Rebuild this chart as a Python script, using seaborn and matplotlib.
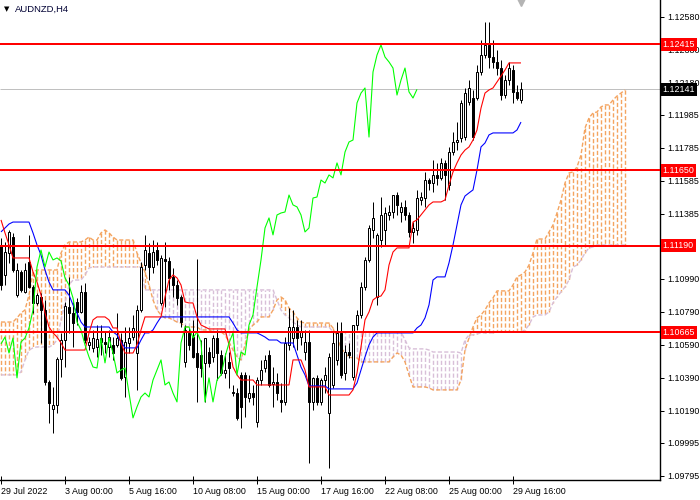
import matplotlib
matplotlib.use("Agg")
import matplotlib.pyplot as plt
import matplotlib.transforms as mtransforms
from matplotlib.collections import LineCollection
import numpy as np
import pandas as pd
import seaborn as sns

# ---------------- data ----------------
symbol_title = "AUDNZD,H4"
date_labels = ["29 Jul 2022", "3 Aug 00:00", "5 Aug 16:00", "10 Aug 08:00", "15 Aug 00:00",
               "17 Aug 16:00", "22 Aug 08:00", "25 Aug 00:00", "29 Aug 16:00"]
date_label_bars = [0, 16, 32, 48, 64, 80, 96, 112, 128]
price_ticks = [1.12580, 1.12380, 1.12180, 1.11985, 1.11785, 1.11585, 1.11385,
               1.10990, 1.10790, 1.10590, 1.10390, 1.10190, 1.09995, 1.09795]
level_prices = [1.12415, 1.11650, 1.11190, 1.10665]
last_price = 1.12141
chikou_shift = 26

opens = [1.11196, 1.11014, 1.11147, 1.11244, 1.10892, 1.11032, 1.10911, 1.11093, 1.10941, 1.10844,
         1.10880, 1.10801, 1.10364, 1.10200, 1.10225, 1.10504, 1.10619, 1.10820, 1.10783, 1.10850,
         1.10789, 1.10911, 1.10589, 1.10571, 1.10577, 1.10631, 1.10607, 1.10577, 1.10589, 1.10589,
         1.10619, 1.10395, 1.10601, 1.10637, 1.10540, 1.10801, 1.11074, 1.11147, 1.11062, 1.11165,
         1.10844, 1.11111, 1.11099, 1.11002, 1.10953, 1.10880, 1.10486, 1.10662, 1.10637, 1.10540,
         1.10528, 1.10480, 1.10546, 1.10516, 1.10631, 1.10528, 1.10419, 1.10486, 1.10304, 1.10297,
         1.10407, 1.10407, 1.10267, 1.10297, 1.10121, 1.10376, 1.10449, 1.10528, 1.10352, 1.10364,
         1.10255, 1.10243, 1.10589, 1.10631, 1.10698, 1.10637, 1.10546, 1.10607, 1.10243, 1.10389,
         1.10243, 1.10376, 1.10176, 1.10346, 1.10498, 1.10662, 1.10419, 1.10546, 1.10395, 1.10710,
         1.10771, 1.10941, 1.11105, 1.11287, 1.10880, 1.11226, 1.11287, 1.11378, 1.11396, 1.11499,
         1.11396, 1.11427, 1.11378, 1.11275, 1.11287, 1.11469, 1.11481, 1.11590, 1.11572, 1.11621,
         1.11603, 1.11694, 1.11560, 1.11760, 1.11821, 1.11845, 1.11851, 1.12064, 1.12088, 1.12088,
         1.12246, 1.12349, 1.12410, 1.12337, 1.12307, 1.12270, 1.12106, 1.12197, 1.12258, 1.12125,
         1.12076]
highs = [1.11238, 1.11214, 1.11287, 1.11269, 1.11087, 1.11044, 1.11087, 1.11257, 1.10953, 1.10904,
         1.10904, 1.10862, 1.10376, 1.10334, 1.10516, 1.10662, 1.10850, 1.11002, 1.10850, 1.10874,
         1.10953, 1.10965, 1.10637, 1.10680, 1.10710, 1.10710, 1.10668, 1.10680, 1.10637, 1.10783,
         1.10662, 1.10698, 1.10698, 1.10771, 1.10832, 1.11093, 1.11257, 1.11208, 1.11226, 1.11214,
         1.11135, 1.11214, 1.11123, 1.11056, 1.10983, 1.10892, 1.10710, 1.10692, 1.10741, 1.11111,
         1.10619, 1.10631, 1.10577, 1.10650, 1.10680, 1.10558, 1.10540, 1.10546, 1.10346, 1.10328,
         1.10425, 1.10425, 1.10407, 1.10346, 1.10395, 1.10498, 1.10528, 1.10558, 1.10455, 1.10419,
         1.10358, 1.10637, 1.10813, 1.10801, 1.10741, 1.10741, 1.10680, 1.10680, 1.10395, 1.10407,
         1.10389, 1.10455, 1.10540, 1.10668, 1.10728, 1.10728, 1.10589, 1.10601, 1.10710, 1.10801,
         1.10971, 1.11123, 1.11317, 1.11457, 1.11269, 1.11487, 1.11427, 1.11439, 1.11499, 1.11518,
         1.11457, 1.11469, 1.11396, 1.11335, 1.11530, 1.11518, 1.11639, 1.11603, 1.11712, 1.11694,
         1.11724, 1.11712, 1.11791, 1.11882, 1.11942, 1.12076, 1.12149, 1.12197, 1.12137, 1.12288,
         1.12440, 1.12549, 1.12549, 1.12440, 1.12380, 1.12319, 1.12228, 1.12307, 1.12288, 1.12167,
         1.12185]
lows = [1.10923, 1.10953, 1.11087, 1.11032, 1.10880, 1.10911, 1.10904, 1.10935, 1.10783, 1.10832,
        1.10601, 1.10346, 1.10115, 1.10055, 1.10176, 1.10395, 1.10455, 1.10662, 1.10577, 1.10710,
        1.10783, 1.10601, 1.10558, 1.10546, 1.10516, 1.10528, 1.10540, 1.10516, 1.10498, 1.10577,
        1.10376, 1.10273, 1.10540, 1.10619, 1.10316, 1.10789, 1.11044, 1.10983, 1.11026, 1.11074,
        1.10832, 1.10820, 1.10923, 1.10880, 1.10832, 1.10698, 1.10455, 1.10558, 1.10510, 1.10243,
        1.10395, 1.10243, 1.10455, 1.10486, 1.10376, 1.10407, 1.10389, 1.10328, 1.10279, 1.10134,
        1.10085, 1.10152, 1.10243, 1.10225, 1.10091, 1.10346, 1.10425, 1.10334, 1.10213, 1.10255,
        1.10182, 1.10225, 1.10558, 1.10577, 1.10558, 1.10589, 1.10498, 1.09873, 1.10194, 1.10225,
        1.10225, 1.10297, 1.09842, 1.10328, 1.10467, 1.10389, 1.10376, 1.10510, 1.10376, 1.10680,
        1.10753, 1.10923, 1.11093, 1.11238, 1.10832, 1.11184, 1.11196, 1.11348, 1.11360, 1.11378,
        1.11335, 1.11348, 1.11244, 1.11208, 1.11257, 1.11439, 1.11427, 1.11530, 1.11518, 1.11560,
        1.11590, 1.11469, 1.11530, 1.11742, 1.11772, 1.11821, 1.11833, 1.12046, 1.11833, 1.12076,
        1.12228, 1.12331, 1.12270, 1.12270, 1.12228, 1.12076, 1.12088, 1.12167, 1.12058, 1.12076,
        1.12058]
closes = [1.10953, 1.11153, 1.11275, 1.11044, 1.11044, 1.10923, 1.11044, 1.10941, 1.10844, 1.10892,
          1.10801, 1.10364, 1.10237, 1.10225, 1.10504, 1.10619, 1.10826, 1.10783, 1.10722, 1.10789,
          1.10911, 1.10619, 1.10607, 1.10631, 1.10625, 1.10607, 1.10595, 1.10637, 1.10540, 1.10631,
          1.10389, 1.10607, 1.10631, 1.10692, 1.10801, 1.11062, 1.11165, 1.11062, 1.11153, 1.11105,
          1.11117, 1.11099, 1.10996, 1.10953, 1.10874, 1.10728, 1.10680, 1.10589, 1.10516, 1.10455,
          1.10449, 1.10631, 1.10480, 1.10631, 1.10540, 1.10419, 1.10437, 1.10449, 1.10297, 1.10146,
          1.10213, 1.10273, 1.10297, 1.10273, 1.10376, 1.10437, 1.10498, 1.10346, 1.10364, 1.10297,
          1.10243, 1.10601, 1.10698, 1.10698, 1.10631, 1.10668, 1.10607, 1.10243, 1.10389, 1.10243,
          1.10376, 1.10407, 1.10516, 1.10601, 1.10662, 1.10407, 1.10546, 1.10528, 1.10710, 1.10771,
          1.10941, 1.11105, 1.11299, 1.11360, 1.11257, 1.11378, 1.11390, 1.11396, 1.11499, 1.11439,
          1.11427, 1.11378, 1.11275, 1.11299, 1.11481, 1.11487, 1.11590, 1.11572, 1.11621, 1.11603,
          1.11694, 1.11621, 1.11760, 1.11821, 1.11833, 1.12058, 1.12118, 1.12149, 1.11851, 1.12246,
          1.12349, 1.12410, 1.12337, 1.12307, 1.12270, 1.12106, 1.12197, 1.12270, 1.12125, 1.12088,
          1.12141]

tenkan = ([1.11348, 1.11269, 1.11196] + [1.11117] * 5
          + [1.11032, 1.10971, 1.10892, 1.10783, 1.10698, 1.10662, 1.10637, 1.10601]
          + [1.10558] * 6 + [1.10662, 1.10741] + [1.10759] * 3 + [1.10741] + [1.10692] * 2
          + [1.10601] + [1.10540] * 3 + [1.10589, 1.10680] + [1.10759] * 5
          + [1.10880, 1.10983, 1.11014, 1.10996, 1.10953, 1.10850] + [1.10844] * 2
          + [1.10759, 1.10710, 1.10698] + [1.10686] * 5 + [1.10589, 1.10455, 1.10407]
          + [1.10376] * 4 + [1.10346] * 9 + [1.10498] * 3 + [1.10437] + [1.10334] * 5
          + [1.10285] * 6
          + [1.10316, 1.10419, 1.10577, 1.10741, 1.10789, 1.10862, 1.10880, 1.10886, 1.10923,
             1.11074, 1.11153]
          + [1.11178] * 4 + [1.11335, 1.11348, 1.11378, 1.11408, 1.11439] + [1.11457] * 3
          + [1.11469, 1.11560, 1.11639, 1.11694, 1.11742, 1.11772, 1.11791, 1.11833, 1.11894,
             1.12027, 1.12118, 1.12137, 1.12149, 1.12185, 1.12222, 1.12258]
          + [1.12301] * 4)

kijun = ([1.11275, 1.11299, 1.11323] + [1.11335] * 5
         + [1.11269, 1.11196, 1.11135, 1.11044, 1.10971] + [1.10923] * 4
         + [1.10892, 1.10832, 1.10783, 1.10728] + [1.10698] * 7
         + [1.10668, 1.10650, 1.10607] + [1.10571] * 4 + [1.10619] + [1.10662] * 2
         + [1.10680, 1.10722] + [1.10759] * 18 + [1.10722, 1.10680] + [1.10662] * 5
         + [1.10650, 1.10637] + [1.10619] * 3 + [1.10601] * 4 + [1.10528, 1.10455, 1.10407]
         + [1.10340] * 5 + [1.10322] * 7 + [1.10358, 1.10437, 1.10516, 1.10589, 1.10637]
         + [1.10662] * 10 + [1.10692, 1.10710, 1.10753, 1.10832, 1.10983] + [1.11002] * 3
         + [1.11087, 1.11196, 1.11317, 1.11439, 1.11493, 1.11512, 1.11530, 1.11651, 1.11791,
            1.11815, 1.11864]
         + [1.11876] * 6 + [1.11894, 1.11942])

span_a = ([1.10728] * 4 + [1.10753, 1.10783, 1.10801, 1.10892, 1.11032] + [1.11044] * 6
          + [1.11147, 1.11196] + [1.11214] * 4 + [1.11226, 1.11244] + [1.11226] * 2
          + [1.11269, 1.11287, 1.11269, 1.11244] + [1.11226] * 5
          + [1.11147, 1.11087, 1.11032, 1.10953, 1.10862, 1.10801, 1.10771] + [1.10753] * 2
          + [1.10741, 1.10728, 1.10722] + [1.10698] * 4 + [1.10680] * 3 + [1.10668] * 3
          + [1.10650, 1.10607, 1.10558, 1.10516, 1.10498, 1.10589, 1.10680, 1.10710, 1.10728]
          + [1.10759] * 3
          + [1.10801, 1.10862, 1.10880, 1.10862, 1.10813, 1.10789, 1.10753, 1.10728]
          + [1.10722] * 7 + [1.10692, 1.10637, 1.10571, 1.10540, 1.10516] + [1.10510] * 2
          + [1.10486] * 8 + [1.10516, 1.10540, 1.10528, 1.10486, 1.10407] + [1.10334] * 4
          + [1.10328] + [1.10316] * 7
          + [1.10376, 1.10558, 1.10631, 1.10698, 1.10753, 1.10771, 1.10801, 1.10844, 1.10874]
          + [1.10917] * 4 + [1.10953, 1.11002, 1.11014, 1.11032, 1.11074, 1.11147]
          + [1.11232] * 3
          + [1.11275, 1.11317, 1.11390, 1.11469, 1.11572, 1.11633, 1.11639, 1.11669, 1.11742,
             1.11906, 1.11967, 1.11997, 1.12003, 1.12034]
          + [1.12046] * 2 + [1.12076, 1.12100, 1.12118, 1.12137])

span_b = ([1.10407] * 5 + [1.10425, 1.10498, 1.10558, 1.10571] + [1.10577] * 4
          + [1.10589, 1.10619, 1.10741, 1.10844, 1.10953] + [1.10983] * 3 + [1.11014, 1.11056]
          + [1.11062] * 13 + [1.10923] * 33
          + [1.10862, 1.10801, 1.10771, 1.10753, 1.10728, 1.10710] + [1.10698] * 8
          + [1.10668] * 18 + [1.10619, 1.10571] + [1.10565] * 4 + [1.10558] + [1.10546] * 7
          + [1.10540, 1.10619] + [1.10650] * 2 + [1.10656] + [1.10662] * 4 + [1.10668] * 7
          + [1.10680, 1.10710, 1.10759] + [1.10771] * 3
          + [1.10789, 1.10844, 1.10880, 1.10911, 1.10941, 1.10983, 1.11062, 1.11074, 1.11105,
             1.11147, 1.11178, 1.11184]
          + [1.11196] * 8)

assert len(opens) == len(highs) == len(lows) == len(closes) == len(tenkan) == len(kijun) == 131
assert len(span_a) == len(span_b) == 157

# ---------------- styling ----------------
sns.set_theme(style="white")
plt.rcParams['font.family'] = ['Liberation Sans', 'DejaVu Sans']
plt.rcParams['lines.dash_capstyle'] = 'butt'
plt.rcParams['lines.solid_capstyle'] = 'butt'

PX = 0.72  # one pixel in points at 100 dpi
ORANGE = (0.957, 0.643, 0.376, 1.0)   # sandy brown
THISTLE = (0.847, 0.749, 0.847, 1.0)  # thistle
DASH = (0, (3.0, 1.6))

fig = plt.figure(figsize=(7, 5), dpi=100)
fig.patch.set_facecolor("white")
ax = fig.add_axes([0, 20 / 500, 660 / 700, 480 / 500])
ax.set_facecolor("white")

bars = np.arange(len(closes))
bars_cloud = np.arange(len(span_a))
o = np.array(opens); h = np.array(highs); l = np.array(lows); c = np.array(closes)
a = np.array(span_a); b = np.array(span_b)

# ---- Ichimoku cloud hatch (one dashed vertical per bar) ----
segs = [[(xi, ya), (xi, yb)] for xi, ya, yb in zip(bars_cloud, a, b)]
cols = [ORANGE if ya >= yb else THISTLE for ya, yb in zip(a, b)]
hatch = LineCollection(segs, colors=cols, linewidths=1.0, linestyles=[DASH], zorder=1.2)
ax.add_collection(hatch)

cloud_df = pd.DataFrame({"bar": bars_cloud, "span_a": a, "span_b": b})
sns.lineplot(data=cloud_df, x="bar", y="span_a", ax=ax, color=ORANGE, linewidth=1.0,
             linestyle=DASH, zorder=1.5)
sns.lineplot(data=cloud_df, x="bar", y="span_b", ax=ax, color=THISTLE, linewidth=1.0,
             linestyle=DASH, zorder=1.5)

# ---- current price line ----
ax.axhline(last_price, color="#C0C0C0", linewidth=PX, zorder=0.8)

# ---- candles ----
wick_lo = np.minimum(l, np.minimum(o, c))
wick_hi = np.maximum(h, np.maximum(o, c))
ax.vlines(bars, wick_lo, wick_hi, colors="black", linewidth=PX, zorder=2)
bull = c >= o
body_bottom = np.minimum(o, c)
body_h = np.maximum(np.abs(c - o), 0.00002)
ax.bar(bars[bull], body_h[bull], bottom=body_bottom[bull], width=0.55,
       color="white", edgecolor="black", linewidth=PX, zorder=2.1)
ax.bar(bars[~bull], body_h[~bull], bottom=body_bottom[~bull], width=0.55,
       color="black", edgecolor="black", linewidth=PX, zorder=2.1)

# ---- indicator lines ----
line_df = pd.DataFrame({"bar": bars, "tenkan": tenkan, "kijun": kijun})
sns.lineplot(data=line_df, x="bar", y="kijun", ax=ax, color="#0000FF", linewidth=PX * 1.1, zorder=3)
sns.lineplot(data=line_df, x="bar", y="tenkan", ax=ax, color="#FF0000", linewidth=PX * 1.1, zorder=3)
chikou_df = pd.DataFrame({"bar": bars[chikou_shift:] - chikou_shift, "close": c[chikou_shift:]})
sns.lineplot(data=chikou_df, x="bar", y="close", ax=ax, color="#00FF00", linewidth=PX * 1.1, zorder=3)

# ---- horizontal levels ----
for p in level_prices:
    ax.axhline(p, color="#FF0000", linewidth=2 * PX, zorder=4)

# ---- axes ----
ax.set_xlim(-0.25, 164.75)
ax.set_ylim(1.09769, 1.12683)
ax.set_xlabel("")
ax.set_ylabel("")
for side in ["left", "top"]:
    ax.spines[side].set_visible(False)
for side in ["right", "bottom"]:
    ax.spines[side].set_visible(True)
    ax.spines[side].set_color("black")
    ax.spines[side].set_linewidth(1.0)

ax.yaxis.tick_right()
ax.set_yticks(price_ticks)
ax.set_yticklabels([f"{t:.5f}" for t in price_ticks])
ax.tick_params(axis="y", which="both", right=True, left=False, direction="out",
               length=3, width=PX, pad=2, labelsize=6.4, colors="black")
ax.set_xticks(date_label_bars)
ax.set_xticklabels(date_labels, ha="left")
ax.tick_params(axis="x", which="both", bottom=True, direction="inout", length=6,
               width=PX, pad=2, labelsize=6.4, colors="black")
ax.grid(False)

# ---- price labels on the axis ----
ytrans = ax.get_yaxis_transform()
for p in level_prices:
    ax.text(1.004, p, f"{p:.5f}", transform=ytrans, color="white", fontsize=6.4,
            va="center", ha="left", zorder=10, clip_on=False,
            bbox=dict(boxstyle="square,pad=0.22", facecolor="#FF0000", edgecolor="none"))
ax.text(1.004, last_price, f"{last_price:.5f}", transform=ytrans, color="white", fontsize=6.4,
        va="center", ha="left", zorder=10, clip_on=False,
        bbox=dict(boxstyle="square,pad=0.22", facecolor="black", edgecolor="none"))

# ---- shift marker at top ----
xtrans = mtransforms.blended_transform_factory(ax.transData, ax.transAxes)
ax.plot([bars[-1]], [1.0], marker="v", markersize=9, color="#B4B4B4", transform=xtrans,
        clip_on=False, zorder=5)

# ---- title ----
fig.text(4 / 700, 1 - 9 / 500, "\u25BC", fontsize=5, color="black", va="center", ha="left",
         family=["DejaVu Sans"])
fig.text(15 / 700, 1 - 9 / 500, symbol_title, fontsize=6.8, color="#000033", va="center", ha="left")

fig.savefig("out.png", dpi=100, facecolor="white")
